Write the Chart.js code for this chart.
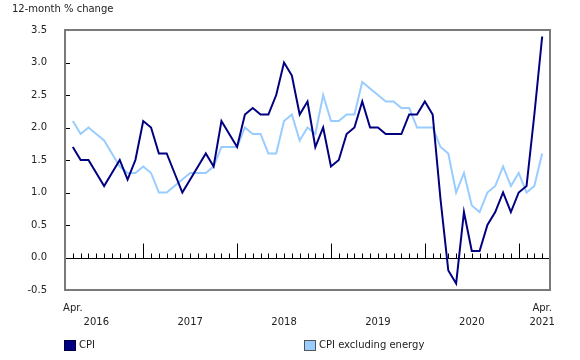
<!DOCTYPE html>
<html>
<head>
<meta charset="utf-8">
<script src="https://cdn.jsdelivr.net/npm/chart.js@4.4.0/dist/chart.umd.min.js"></script>
<style>
  html, body { margin: 0; padding: 0; background: #ffffff; }
  #wrap { position: relative; width: 580px; height: 360px; font-family: "DejaVu Sans", Verdana, sans-serif; font-size: 10px; color: #222; }
  canvas { position: absolute; left: 0; top: 0; }
  .leg { position: absolute; top: 339px; height: 12px; line-height: 12px; white-space: nowrap; }
  .sw { position: absolute; left: 0; top: 1px; width: 10px; height: 9px; border: 1px solid #444; }
  .lt { position: absolute; left: 15px; top: 0; }
</style>
</head>
<body>
<div id="wrap">
  <canvas id="c" width="580" height="360"></canvas>
  <div class="leg" style="left:64px;"><span class="sw" style="background:#000080;border-color:#000040"></span><span class="lt">CPI</span></div>
  <div class="leg" style="left:304px;"><span class="sw" style="background:#99ccff;border-color:#555"></span><span class="lt">CPI excluding energy</span></div>
</div>
<script>
// Categories: months from April 2016 to April 2021
const months = [
  "Apr 2016","May 2016","Jun 2016","Jul 2016","Aug 2016","Sep 2016","Oct 2016","Nov 2016","Dec 2016",
  "Jan 2017","Feb 2017","Mar 2017","Apr 2017","May 2017","Jun 2017","Jul 2017","Aug 2017","Sep 2017","Oct 2017","Nov 2017","Dec 2017",
  "Jan 2018","Feb 2018","Mar 2018","Apr 2018","May 2018","Jun 2018","Jul 2018","Aug 2018","Sep 2018","Oct 2018","Nov 2018","Dec 2018",
  "Jan 2019","Feb 2019","Mar 2019","Apr 2019","May 2019","Jun 2019","Jul 2019","Aug 2019","Sep 2019","Oct 2019","Nov 2019","Dec 2019",
  "Jan 2020","Feb 2020","Mar 2020","Apr 2020","May 2020","Jun 2020","Jul 2020","Aug 2020","Sep 2020","Oct 2020","Nov 2020","Dec 2020",
  "Jan 2021","Feb 2021","Mar 2021","Apr 2021"
];

// Series values (12-month % change)
const cpi = [
  1.7,1.5,1.5,1.3,1.1,1.3,1.5,1.2,1.5,
  2.1,2.0,1.6,1.6,1.3,1.0,1.2,1.4,1.6,1.4,2.1,1.9,
  1.7,2.2,2.3,2.2,2.2,2.5,3.0,2.8,2.2,2.4,1.7,2.0,
  1.4,1.5,1.9,2.0,2.4,2.0,2.0,1.9,1.9,1.9,2.2,2.2,
  2.4,2.2,0.9,-0.2,-0.4,0.7,0.1,0.1,0.5,0.7,1.0,0.7,
  1.0,1.1,2.2,3.4
];
const cpiExEnergy = [
  2.1,1.9,2.0,1.9,1.8,1.6,1.4,1.3,1.3,
  1.4,1.3,1.0,1.0,1.1,1.2,1.3,1.3,1.3,1.4,1.7,1.7,
  1.7,2.0,1.9,1.9,1.6,1.6,2.1,2.2,1.8,2.0,1.9,2.5,
  2.1,2.1,2.2,2.2,2.7,2.6,2.5,2.4,2.4,2.3,2.3,2.0,
  2.0,2.0,1.7,1.6,1.0,1.3,0.8,0.7,1.0,1.1,1.4,1.1,
  1.3,1.0,1.1,1.6
];

// Tick labels
const yTicks = [-0.5, 0.0, 0.5, 1.0, 1.5, 2.0, 2.5, 3.0, 3.5];
const years = ["2016","2017","2018","2019","2020","2021"];
const monthTickLabel = "Apr.";
const yTitle = "12-month % change";

// Derived label positions from categories
const xLabelMap = {};
xLabelMap[0] = [monthTickLabel, ""];
years.forEach(y => {
  let idx = months.indexOf("Jul " + y);
  if (idx < 0 || idx >= months.length - 1) idx = months.length - 1;
  if (xLabelMap[idx]) xLabelMap[idx][1] = y; else xLabelMap[idx] = ["", y];
});
xLabelMap[months.length - 1] = [monthTickLabel, years[years.length - 1]];
const xTickIdx = Object.keys(xLabelMap).map(Number).sort((a,b)=>a-b);

const FONT = "'DejaVu Sans', Verdana, sans-serif";

const decor = {
  id: 'decor',
  beforeDatasetsDraw(chart) {
    const {ctx, chartArea: a, scales: {x, y}} = chart;
    ctx.save();
    // zero line
    const y0 = Math.round(y.getPixelForValue(0)) + 0.5;
    ctx.strokeStyle = '#000';
    ctx.lineWidth = 1;
    ctx.beginPath();
    ctx.moveTo(a.left, y0); ctx.lineTo(a.right, y0);
    // month ticks on zero line
    months.forEach((m, i) => {
      const px = Math.round(x.getPixelForValue(i)) + 0.5;
      const len = m.startsWith('Jan') ? 15 : 5;
      ctx.moveTo(px, y0); ctx.lineTo(px, y0 - len);
    });
    // inward y ticks
    yTicks.forEach(v => {
      const py = Math.round(y.getPixelForValue(v)) + 0.5;
      ctx.moveTo(a.left, py); ctx.lineTo(a.left + 5, py);
    });
    ctx.stroke();
    // frame
    ctx.strokeStyle = '#7a7a7a';
    ctx.lineWidth = 2;
    ctx.strokeRect(a.left, a.top, a.right - a.left, a.bottom - a.top);
    ctx.restore();
  },
  afterDraw(chart) {
    const ctx = chart.ctx;
    ctx.save();
    ctx.fillStyle = '#222';
    ctx.font = "10px " + FONT;
    ctx.textBaseline = 'alphabetic';
    ctx.textAlign = 'left';
    ctx.fillText(yTitle, 12, 12);
    ctx.restore();
  }
};

new Chart(document.getElementById('c'), {
  type: 'line',
  data: {
    datasets: [
      { label: 'CPI', data: cpi.map((v,i)=>({x:i, y:v})), borderColor: '#000080', backgroundColor: '#000080', borderWidth: 2, pointRadius: 0, tension: 0, order: 1 },
      { label: 'CPI excluding energy', data: cpiExEnergy.map((v,i)=>({x:i, y:v})), borderColor: '#99ccff', backgroundColor: '#99ccff', borderWidth: 2, pointRadius: 0, tension: 0, order: 2 }
    ]
  },
  options: {
    responsive: false,
    animation: false,
    events: [],
    layout: { padding: { top: 30, right: 30, left: 0, bottom: 0 } },
    plugins: { legend: { display: false }, title: { display: false }, tooltip: { enabled: false } },
    scales: {
      x: {
        type: 'linear',
        min: -1,
        max: months.length,
        grid: { display: false },
        border: { display: false },
        afterBuildTicks: s => { s.ticks = xTickIdx.map(v => ({ value: v })); },
        afterFit: s => { s.height = 70; },
        ticks: {
          autoSkip: false, maxRotation: 0, minRotation: 0, padding: 3,
          color: '#222',
          font: { family: FONT, size: 10, lineHeight: 1.4 },
          callback: (v) => xLabelMap[v] || ''
        }
      },
      y: {
        min: -0.5,
        max: 3.5,
        grid: { display: false },
        border: { display: false },
        afterBuildTicks: s => { s.ticks = yTicks.map(v => ({ value: v })); },
        afterFit: s => { s.width = 65; },
        ticks: {
          padding: 10,
          color: '#222',
          font: { family: FONT, size: 10 },
          callback: v => Number(v).toFixed(1)
        }
      }
    }
  },
  plugins: [decor]
});
</script>
</body>
</html>
